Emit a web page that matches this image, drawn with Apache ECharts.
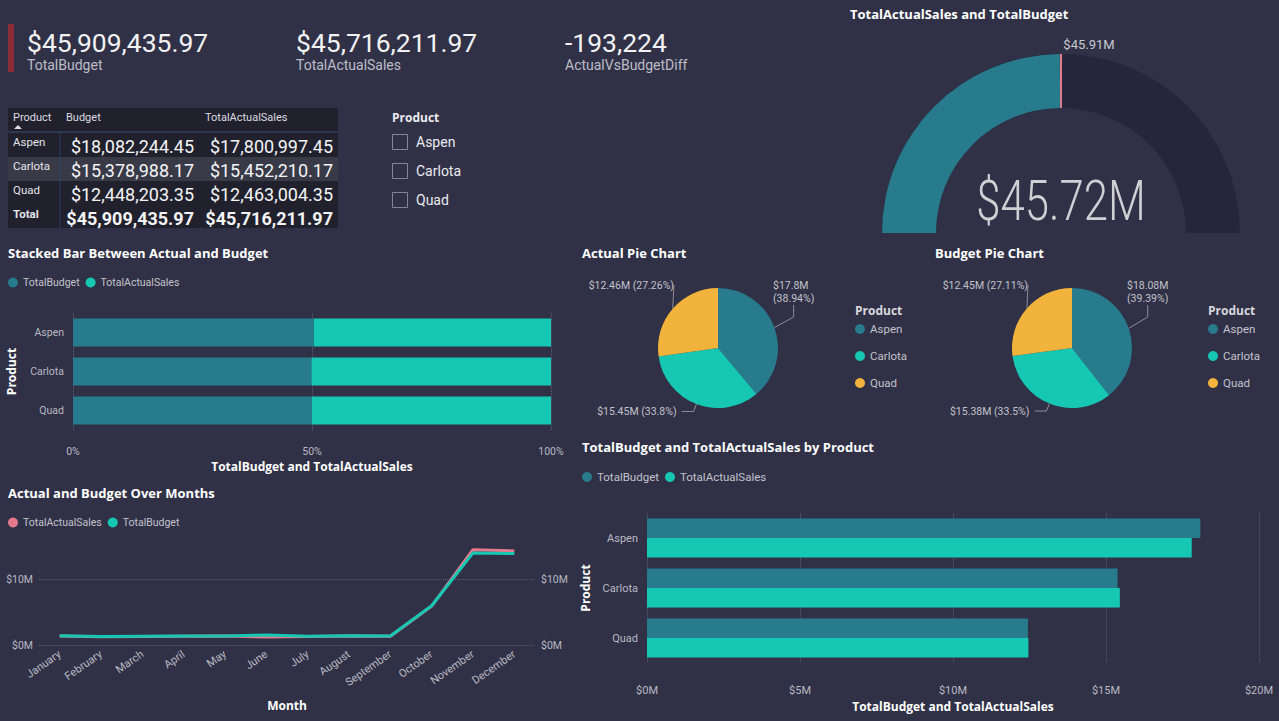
<!DOCTYPE html>
<html>
<head>
<meta charset="utf-8">
<title>Sales vs Budget</title>
<script src="https://cdn.jsdelivr.net/npm/echarts@6/dist/echarts.min.js"></script>
<style>
  html, body { margin: 0; padding: 0; background: #303146; }
  #main { width: 1279px; height: 721px; }
</style>
</head>
<body>
<div id="main"></div>
<script>
// data
var products = ['Aspen', 'Carlota', 'Quad'];
var budget = [18082244.45, 15378988.17, 12448203.35];
var actual = [17800997.45, 15452210.17, 12463004.35];

var months = ['January', 'February', 'March', 'April', 'May', 'June', 'July',
  'August', 'September', 'October', 'November', 'December'];
// monthly values in $M
var monthActual = [1.38, 1.25, 1.28, 1.32, 1.35, 1.22, 1.30, 1.35, 1.33, 5.90, 14.45, 14.25];
var monthBudget = [1.40, 1.27, 1.32, 1.35, 1.38, 1.50, 1.33, 1.42, 1.36, 5.95, 13.95, 13.85];

var pctTicks = [0, 50, 100];

// colours
var darkTeal = '#277b8c';
var teal = '#16c8b4';
var pink = '#e57a8c';
var gold = '#f2b33d';
var pieColors = [darkTeal, teal, gold];

var FONT = 'Roboto, "DejaVu Sans", sans-serif';
var TFONT = '"Open Sans", "Noto Sans", sans-serif';
var labelColor = '#b9b9c3';
var gridColor = '#5c5d70';

function sum(a) { return a.reduce(function (s, v) { return s + v; }, 0); }
function money(v) {
  return '$' + v.toLocaleString('en-US', { minimumFractionDigits: 2, maximumFractionDigits: 2 });
}
function shortM(v) { return '$' + Number((v / 1e6).toFixed(2)) + 'M'; }

var budgetTotal = sum(budget);
var actualTotal = sum(actual);
var diff = Math.round(actualTotal - budgetTotal);

var budgetPct = budget.map(function (b, i) { return b / (b + actual[i]) * 100; });
var actualPct = actual.map(function (a, i) { return a / (budget[i] + a) * 100; });

var myChart = echarts.init(document.getElementById('main'), null, { renderer: 'svg' });

// ----- graphic pieces: KPI cards, table, slicer -----
var graphics = [];
function txt(x, y, s, size, color, opts) {
  opts = opts || {};
  graphics.push({
    type: 'text', x: x, y: y, scaleX: opts.scaleX || 1,
    style: {
      text: s, fill: color, fontSize: size, fontFamily: opts.family || FONT,
      fontWeight: opts.weight || 'normal',
      textAlign: opts.align || 'left', textVerticalAlign: 'middle'
    }
  });
}
function box(x, y, w, h, fill, stroke) {
  graphics.push({
    type: 'rect', shape: { x: x, y: y, width: w, height: h },
    style: { fill: fill || 'none', stroke: stroke || 'none', lineWidth: 1 }
  });
}

// KPI cards
box(8, 24, 6, 48, '#8e2b38');
var kpis = [
  [money(budgetTotal), 'TotalBudget'],
  [money(actualTotal), 'TotalActualSales'],
  [diff.toLocaleString('en-US'), 'ActualVsBudgetDiff']
];
kpis.forEach(function (k, i) {
  var x = 27 + i * 269;
  txt(x, 42, k[0], 26.5, '#f2f2f4');
  txt(x, 65, k[1], 14, '#bdbdc6');
});

// table
var tX = 8, tY = 108, tW = 330, headH = 24, rowH = 24;
box(tX, tY, tW, headH + rowH * 4, '#20212d');
txt(13, tY + 9, 'Product', 11, '#dcdce2');
txt(66, tY + 9, 'Budget', 11, '#dcdce2');
txt(205, tY + 9, 'TotalActualSales', 11, '#dcdce2');
graphics.push({ type: 'polygon', shape: { points: [[14, 129], [22, 129], [18, 125]] }, style: { fill: '#dcdce2' } });
var rows = products.map(function (p, i) { return [p, budget[i], actual[i]]; });
rows.push(['Total', budgetTotal, actualTotal]);
rows.forEach(function (r, i) {
  var y = tY + headH + i * rowH;
  var isTotal = i === rows.length - 1;
  if (i === 1) box(tX, y + 1, tW, rowH, '#393a48');
  txt(13, y + 10, r[0], 11.5, '#e4e4ea', { weight: isTotal ? 'bold' : 'normal' });
  txt(194, y + 14, money(r[1]), 18, '#f4f4f6', { align: 'right', weight: isTotal ? 'bold' : 'normal' });
  txt(333, y + 14, money(r[2]), 18, '#f4f4f6', { align: 'right', weight: isTotal ? 'bold' : 'normal' });
});
graphics.push({ type: 'line', shape: { x1: tX, y1: tY + headH, x2: tX + tW, y2: tY + headH }, style: { stroke: '#3d4f75', lineWidth: 1 } });
graphics.push({ type: 'line', shape: { x1: 60, y1: tY + headH, x2: 60, y2: tY + headH + rowH * 4 }, style: { stroke: '#2f4066', lineWidth: 1 } });

// slicer
txt(392, 117, 'Product', 12, '#ececf0', { family: TFONT, weight: 'bold' });
products.forEach(function (p, i) {
  box(392.5, 134.5 + i * 29, 15, 15, 'none', '#85858f');
  txt(416, 142 + i * 29, p, 14, '#ececf0');
});

// pie legend headers
txt(855, 310, 'Product', 12, '#d8d8de', { family: TFONT, weight: 'bold' });
txt(1208, 310, 'Product', 12, '#d8d8de', { family: TFONT, weight: 'bold' });

// gauge centre value
txt(1061, 200, shortM(actualTotal), 56, '#cfcfd4', { align: 'center', weight: 300, scaleX: 0.78 });

// ----- option -----
function titleAt(text, x, y) {
  return {
    text: text, left: x, top: y, padding: 0,
    textStyle: { color: '#ffffff', fontSize: 13, fontWeight: 'bold', fontFamily: TFONT }
  };
}
var legendBase = {
  icon: 'circle', itemWidth: 10, itemHeight: 10, itemGap: 6, padding: 0,
  textStyle: { color: '#c3c3cc', fontSize: 10.5, fontFamily: FONT }
};
function legendAt(x, y, data, extra) {
  return Object.assign({}, legendBase, { left: x, top: y, data: data }, extra || {});
}
var axisName = { color: '#ffffff', fontSize: 12, fontWeight: 'bold', fontFamily: TFONT };
var axisLbl = { color: labelColor, fontSize: 10.5, fontFamily: FONT };
var dotted = { show: true, lineStyle: { color: gridColor, type: 'dotted', width: 1 } };

// Power BI keeps the right-hand and upper-left labels near the top of the pie
function pieSeries(name, values, cx) {
  return {
    type: 'pie', name: name, center: [cx, 348], radius: 60,
    startAngle: 90, clockwise: true, animation: false,
    data: products.map(function (p, i) {
      return { name: p, value: values[i], itemStyle: { color: pieColors[i] } };
    }),
    label: {
      color: '#c3c3cc', fontSize: 10.5, fontFamily: FONT, lineHeight: 13,
      formatter: function (p) {
        return shortM(p.value) + (p.dataIndex === 0 ? '\n' : ' ') + '(' + p.percent + '%)';
      }
    },
    labelLine: { length: 8, length2: 12, lineStyle: { color: '#8d8d98', width: 1 } },
    labelLayout: function (p) {
      if (p.dataIndex === 0) return { x: cx + 55, y: 292 };
      if (p.dataIndex === 2) return { x: cx - 44, y: 285 };
      return {};
    }
  };
}

var option = {
  backgroundColor: '#303146',
  animation: false,
  textStyle: { fontFamily: FONT },
  title: [
    titleAt('TotalActualSales and TotalBudget', 850, 7),
    titleAt('Stacked Bar Between Actual and Budget', 8, 246),
    titleAt('Actual Pie Chart', 582, 246),
    titleAt('Budget Pie Chart', 935, 246),
    titleAt('TotalBudget and TotalActualSales by Product', 582, 440),
    titleAt('Actual and Budget Over Months', 8, 486)
  ],
  legend: [
    legendAt(8, 277, [{ name: 'TotalBudget', itemStyle: { color: darkTeal } }, { name: 'TotalActualSales', itemStyle: { color: teal } }]),
    legendAt(8, 517, [{ name: 'TotalActualSales', itemStyle: { color: pink } }, { name: 'TotalBudget', itemStyle: { color: teal } }]),
    legendAt(582, 471, [{ name: 'TotalBudget', itemStyle: { color: darkTeal } }, { name: 'TotalActualSales', itemStyle: { color: teal } }], { textStyle: { color: '#c3c3cc', fontSize: 11.5, fontFamily: FONT } }),
    legendAt(855, 323, products, { orient: 'vertical', itemGap: 15, textStyle: { color: '#c3c3cc', fontSize: 11.5, fontFamily: FONT } }),
    legendAt(1208, 323, products, { orient: 'vertical', itemGap: 15, textStyle: { color: '#c3c3cc', fontSize: 11.5, fontFamily: FONT } })
  ],
  grid: [
    { left: 73, top: 313, width: 478, height: 117 },
    { left: 39, top: 546, width: 496, height: 99 },
    { left: 647, top: 513, width: 612, height: 150 }
  ],
  xAxis: [
    {
      gridIndex: 0, type: 'value', min: pctTicks[0], max: pctTicks[2], interval: pctTicks[1] - pctTicks[0],
      axisLabel: Object.assign({ formatter: '{value}%', margin: 16 }, axisLbl),
      axisLine: { show: false }, axisTick: { show: false }, splitLine: dotted,
      name: 'TotalBudget and TotalActualSales', nameLocation: 'middle', nameGap: 30, nameTextStyle: axisName
    },
    {
      gridIndex: 1, type: 'category', data: months, boundaryGap: true,
      axisLabel: Object.assign({ rotate: 35, interval: 0, margin: 8 }, axisLbl, { fontSize: 11 }),
      axisLine: { show: false }, axisTick: { show: false },
      name: 'Month', nameLocation: 'middle', nameGap: 54, nameTextStyle: axisName
    },
    {
      gridIndex: 2, type: 'value', min: 0, max: 20e6, interval: 5e6,
      axisLabel: Object.assign({ formatter: function (v) { return '$' + v / 1e6 + 'M'; }, margin: 22 }, axisLbl, { fontSize: 11 }),
      axisLine: { show: false }, axisTick: { show: false }, splitLine: dotted,
      name: 'TotalBudget and TotalActualSales', nameLocation: 'middle', nameGap: 37, nameTextStyle: axisName
    }
  ],
  yAxis: [
    {
      gridIndex: 0, type: 'category', data: products, inverse: true,
      axisLabel: Object.assign({ margin: 9 }, axisLbl),
      axisLine: { show: false }, axisTick: { show: false },
      name: 'Product', nameLocation: 'middle', nameGap: 56, nameRotate: 90, nameTextStyle: axisName
    },
    {
      gridIndex: 1, type: 'value', position: 'left', min: 0, max: 15, interval: 10,
      axisLabel: Object.assign({ formatter: '${value}M', margin: 6, showMaxLabel: false }, axisLbl),
      axisLine: { show: false }, axisTick: { show: false },
      splitLine: Object.assign({ showMaxLine: false }, dotted)
    },
    {
      gridIndex: 1, type: 'value', position: 'right', min: 0, max: 15, interval: 10,
      axisLabel: Object.assign({ formatter: '${value}M', margin: 6, showMaxLabel: false }, axisLbl),
      axisLine: { show: false }, axisTick: { show: false }, splitLine: { show: false }
    },
    {
      gridIndex: 2, type: 'category', data: products, inverse: true,
      axisLabel: Object.assign({ margin: 9 }, axisLbl, { fontSize: 11 }),
      axisLine: { show: false }, axisTick: { show: false },
      name: 'Product', nameLocation: 'middle', nameGap: 56, nameRotate: 90, nameTextStyle: axisName
    }
  ],
  series: [
    {
      type: 'gauge', center: [1061, 233], radius: 179, startAngle: 180, endAngle: 0,
      min: 0, max: budgetTotal * 2,
      axisLine: { lineStyle: { width: 54, color: [[1, '#25263a']] } },
      progress: { show: true, width: 54, itemStyle: { color: darkTeal } },
      pointer: { show: false }, axisTick: { show: false }, splitLine: { show: false },
      axisLabel: { show: false }, title: { show: false }, detail: { show: false },
      data: [{ value: actualTotal, name: 'TotalActualSales' }]
    },
    {
      type: 'gauge', center: [1061, 233], radius: 179, startAngle: 180, endAngle: 0,
      min: 0, max: budgetTotal * 2,
      axisLine: { show: false }, progress: { show: false },
      pointer: { show: true, icon: 'rect', width: 2, length: 54, offsetCenter: [0, -125], itemStyle: { color: pink } },
      axisTick: { show: false }, splitLine: { show: false }, axisLabel: { show: false },
      title: { show: false }, anchor: { show: false },
      detail: {
        show: true, offsetCenter: [28, -189], formatter: function (v) { return shortM(v); },
        color: '#c9c9d0', fontSize: 13, fontFamily: FONT, fontWeight: 'normal'
      },
      data: [{ value: budgetTotal, name: 'TotalBudget' }]
    },
    {
      type: 'bar', name: 'TotalBudget', stack: 'pct', xAxisIndex: 0, yAxisIndex: 0,
      barWidth: 28, itemStyle: { color: darkTeal }, data: budgetPct
    },
    {
      type: 'bar', name: 'TotalActualSales', stack: 'pct', xAxisIndex: 0, yAxisIndex: 0,
      barWidth: 28, itemStyle: { color: teal }, data: actualPct
    },
    pieSeries('Actual', actual, 718),
    pieSeries('Budget', budget, 1072),
    {
      type: 'line', name: 'TotalActualSales', xAxisIndex: 1, yAxisIndex: 1,
      data: monthActual, symbol: 'none', lineStyle: { color: pink, width: 3 }, itemStyle: { color: pink }
    },
    {
      type: 'line', name: 'TotalBudget', xAxisIndex: 1, yAxisIndex: 2,
      data: monthBudget, symbol: 'none', lineStyle: { color: teal, width: 3 }, itemStyle: { color: teal }
    },
    {
      type: 'bar', name: 'TotalBudget', xAxisIndex: 2, yAxisIndex: 3,
      barWidth: 19.5, barGap: '0%', itemStyle: { color: darkTeal }, data: budget
    },
    {
      type: 'bar', name: 'TotalActualSales', xAxisIndex: 2, yAxisIndex: 3,
      barWidth: 19.5, barGap: '0%', itemStyle: { color: teal }, data: actual
    }
  ],
  graphic: graphics
};

if (option && typeof option === 'object') {
  myChart.setOption(option);
}
</script>
</body>
</html>
